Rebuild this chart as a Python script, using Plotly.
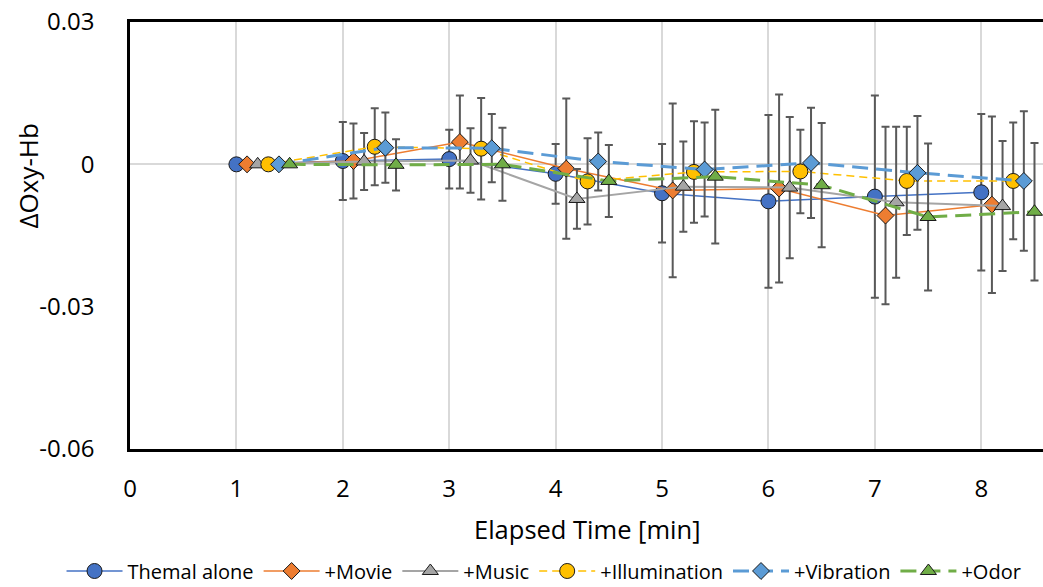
import plotly.graph_objects as go

# ---- data ----
time_min = [1, 2, 3, 4, 5, 6, 7, 8]

series_names = ["Themal alone", "+Movie", "+Music", "+Illumination", "+Vibration", "+Odor"]

thermal = [0, 0.0007, 0.0011, -0.0020, -0.0061, -0.0078, -0.0068, -0.0059]
thermal_err = [0, 0.0082, 0.0062, 0.0063, 0.0104, 0.0182, 0.0213, 0.0165]

movie = [0, 0.0007, 0.0047, -0.0009, -0.0055, -0.0051, -0.0108, -0.0085]
movie_err = [0, 0.0079, 0.0098, 0.0148, 0.0183, 0.0198, 0.0187, 0.0186]

music = [0, 0.0006, 0.0008, -0.0073, -0.0047, -0.0049, -0.0080, -0.0088]
music_err = [0, 0.0060, 0.0068, 0.0063, 0.0095, 0.0149, 0.0159, 0.0137]

illum = [0, 0.0037, 0.0033, -0.0036, -0.0016, -0.0015, -0.0035, -0.0035]
illum_err = [0, 0.0081, 0.0107, 0.0091, 0.0107, 0.0088, 0.0114, 0.0123]

vib = [0, 0.0035, 0.0034, 0.0006, -0.0011, 0.0003, -0.0018, -0.0035]
vib_err = [0, 0.0074, 0.0072, 0.0061, 0.0099, 0.0116, 0.0120, 0.0147]

odor = [0, -0.0001, 0.0000, -0.0035, -0.0026, -0.0044, -0.0111, -0.0100]
odor_err = [0, 0.0054, 0.0077, 0.0076, 0.0141, 0.0131, 0.0155, 0.0145]

y_tick_vals = [0.03, 0, -0.03, -0.06]
y_tick_text = ["0.03", "0", "-0.03", "-0.06"]
x_tick_vals = [0, 1, 2, 3, 4, 5, 6, 7, 8]

# ---- styles ----
values = [thermal, movie, music, illum, vib, odor]
errors = [thermal_err, movie_err, music_err, illum_err, vib_err, odor_err]
offsets = [0.0, 0.1, 0.2, 0.3, 0.4, 0.5]
styles = [
    dict(color="#4472C4", width=1.5, dash="solid", symbol="circle", size=15),
    dict(color="#ED7D31", width=1.5, dash="solid", symbol="diamond", size=13),
    dict(color="#A5A5A5", width=2, dash="solid", symbol="triangle-up", size=14),
    dict(color="#FFC000", width=1.5, dash="8px,5px", symbol="circle", size=15),
    dict(color="#5B9BD5", width=3, dash="16px,8px", symbol="diamond", size=13),
    dict(color="#70AD47", width=3, dash="16px,8px", symbol="triangle-up", size=14),
]

FONT = "Open Sans"

fig = go.Figure()
for name, vals, errs, off, st in zip(series_names, values, errors, offsets, styles):
    fig.add_trace(go.Scatter(
        x=[t + off for t in time_min],
        y=vals,
        name=name,
        mode="lines+markers",
        line=dict(color=st["color"], width=st["width"], dash=st["dash"]),
        marker=dict(symbol=st["symbol"], size=st["size"], color=st["color"],
                    line=dict(color="#1a1a1a", width=1)),
        error_y=dict(type="data", array=errs, visible=True,
                     color="#595959", thickness=2, width=4),
        cliponaxis=False,
    ))

fig.update_layout(
    width=1043, height=587,
    margin=dict(l=130, r=0, t=22, b=138, autoexpand=False),
    paper_bgcolor="white", plot_bgcolor="white",
    font=dict(family=FONT, color="#000000"),
    showlegend=True,
    legend=dict(orientation="h", xref="paper", yref="paper",
                x=-0.075, y=-0.2857, xanchor="left", yanchor="middle",
                font=dict(size=20, family=FONT), itemwidth=56,
                tracegroupgap=0, traceorder="normal",
                bgcolor="rgba(0,0,0,0)"),
    annotations=[
        dict(text="Elapsed Time [min]", xref="paper", yref="paper",
             x=0.5, y=-0.187, xanchor="center", yanchor="middle",
             showarrow=False, font=dict(size=25.5, family=FONT)),
        dict(text="ΔOxy-Hb", xref="paper", yref="paper",
             x=-0.112, xanchor="center", y=0.64, yanchor="middle",
             textangle=-90, showarrow=False, font=dict(size=26, family=FONT)),
    ],
)

fig.update_xaxes(
    range=[0, 8.58], tickvals=x_tick_vals, showgrid=True, gridcolor="#D9D9D9",
    gridwidth=1.5, showline=True, linecolor="#000000", linewidth=2.5, mirror=True,
    zeroline=False, ticks="", ticklabelstandoff=16, automargin=False,
    tickfont=dict(size=24, family=FONT),
)
fig.update_yaxes(
    range=[-0.06, 0.03], tickvals=y_tick_vals, ticktext=y_tick_text,
    showgrid=False, zeroline=True, zerolinecolor="#D9D9D9", zerolinewidth=1.5,
    showline=True, linecolor="#000000", linewidth=2.5, mirror=False, automargin=False,
    ticks="", ticklabelstandoff=28, tickfont=dict(size=24, family=FONT),
)

fig.write_html("out.html", config={"displayModeBar": False},
               post_script="document.body.style.margin='0px';")
